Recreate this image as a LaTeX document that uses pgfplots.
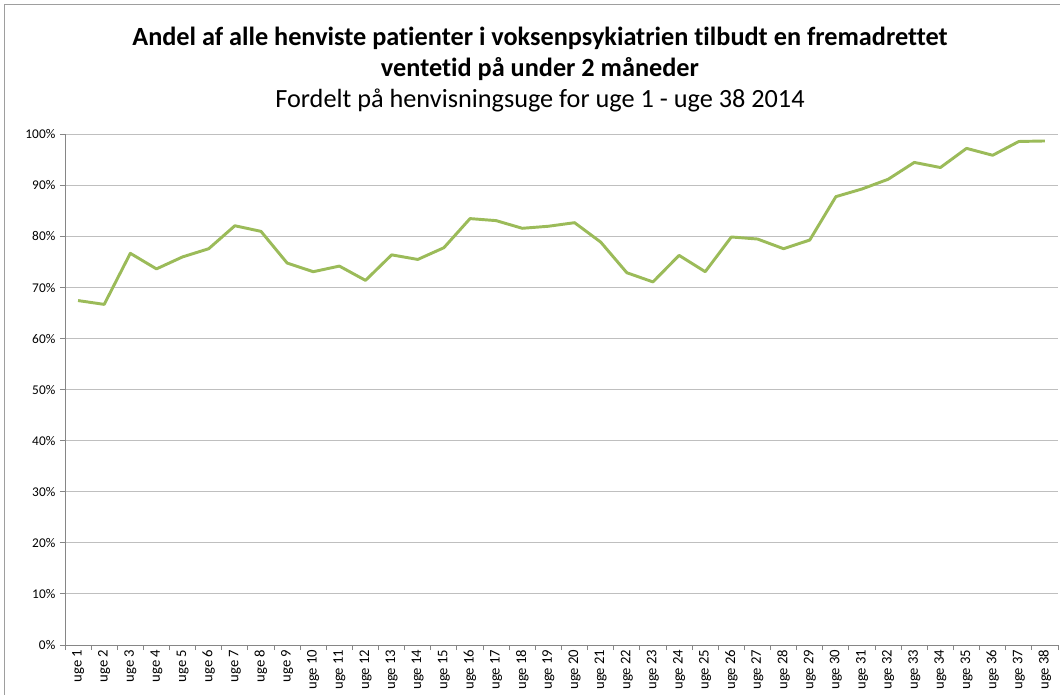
\documentclass[border=0pt]{standalone}
\usepackage{fontspec}
\setmainfont{Carlito}[Ligatures=NoCommon]
\usepackage{pgfplots}
\pgfplotsset{compat=1.18}
\definecolor{linegreen}{HTML}{9BBB59}
\definecolor{gridgray}{HTML}{BFBFBF}
\definecolor{axisgray}{HTML}{868686}

\begin{document}
\begin{tikzpicture}
\useasboundingbox (0,0) rectangle (795pt,-521.25pt);
\draw[axisgray!80, line width=0.75pt] (3pt,-521.25pt) -- (3pt,-3.75pt) -- (795pt,-3.75pt);
\node[font=\fontsize{19.7}{22}\selectfont\bfseries] at (405pt,-28.5pt) {Andel af alle henviste patienter i voksenpsykiatrien tilbudt en fremadrettet};
\node[font=\fontsize{19.7}{22}\selectfont\bfseries] at (405pt,-51.5pt) {ventetid på under 2 måneder};
\node[font=\fontsize{19.7}{22}\selectfont] at (405pt,-75pt) {Fordelt på henvisningsuge for uge 1 - uge 38 2014};
\begin{axis}[
  at={(48.75pt,-483.75pt)}, anchor=south west, scale only axis,
  width=744.75pt, height=383pt,
  xmin=0.5, xmax=38.5, ymin=0, ymax=100,
  axis x line*=bottom, axis y line*=left,
  axis line style={axisgray, line width=0.75pt, -},
  tick align=outside, major tick length=3.75pt,
  tick style={axisgray, line width=0.75pt},
  ytick={0,10,...,100},
  yticklabels={0\%,10\%,20\%,30\%,40\%,50\%,60\%,70\%,80\%,90\%,100\%},
  ymajorgrids, grid style={gridgray, line width=0.75pt},
  xtick={0.5,1.5,...,38.5}, xticklabels=\empty,
  extra x ticks={1,...,38},
  extra x tick labels={uge 1,uge 2,uge 3,uge 4,uge 5,uge 6,uge 7,uge 8,uge 9,uge 10,uge 11,uge 12,uge 13,uge 14,uge 15,uge 16,uge 17,uge 18,uge 19,uge 20,uge 21,uge 22,uge 23,uge 24,uge 25,uge 26,uge 27,uge 28,uge 29,uge 30,uge 31,uge 32,uge 33,uge 34,uge 35,uge 36,uge 37,uge 38},
  extra x tick style={major tick length=0pt, tick label style={rotate=90, anchor=east, font=\fontsize{11}{13}\selectfont}},
  y tick label style={font=\fontsize{10}{12}\selectfont},
]
\addplot[linegreen, line width=2.2pt, line join=round] coordinates {
(1,67.45) (2,66.7) (3,76.7) (4,73.65) (5,76.0) (6,77.6) (7,82.1) (8,81.0)
(9,74.8) (10,73.1) (11,74.2) (12,71.4) (13,76.4) (14,75.5) (15,77.8) (16,83.5)
(17,83.1) (18,81.6) (19,82.0) (20,82.7) (21,78.9) (22,72.9) (23,71.1) (24,76.3)
(25,73.1) (26,79.9) (27,79.5) (28,77.6) (29,79.3) (30,87.8) (31,89.3) (32,91.2)
(33,94.5) (34,93.5) (35,97.25) (36,95.9) (37,98.6) (38,98.7)
};
\end{axis}
\end{tikzpicture}
\end{document}
